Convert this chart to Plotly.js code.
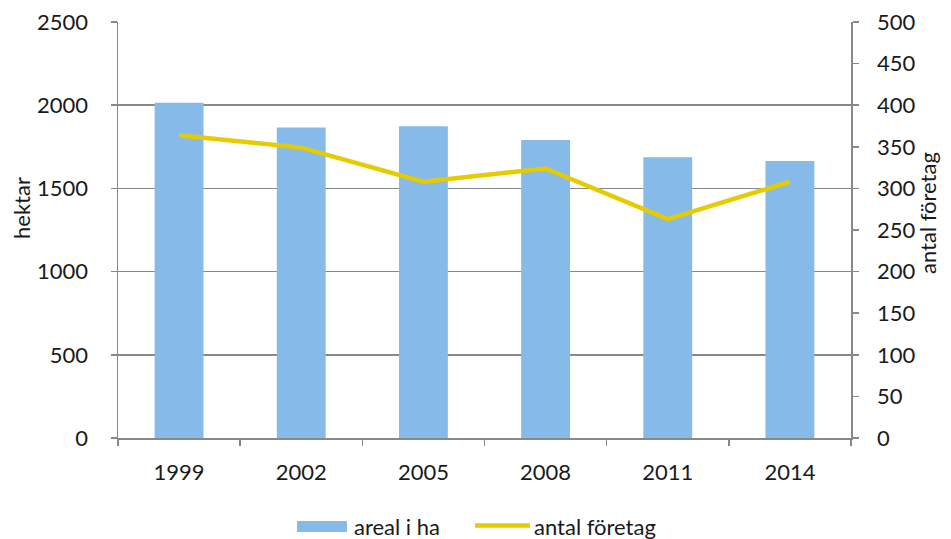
<!DOCTYPE html>
<html>
<head>
<meta charset="utf-8">
<script src="https://cdn.plot.ly/plotly-3.0.1.min.js"></script>
<style>html,body{margin:0;padding:0;background:#fff;}#chart{width:951px;height:539px;}</style>
</head>
<body>
<div id="chart"></div>
<script>
const years = ["1999", "2002", "2005", "2008", "2011", "2014"];
const arealHa = [2014, 1866, 1873, 1791, 1687, 1665];
const antalForetag = [364, 349, 308, 324, 263, 308];
const seriesNames = ["areal i ha", "antal företag"];
const axisTitles = ["hektar", "antal företag"];

const barColor = "#86BBE9";
const lineColor = "#E6CB00";
const font = {family: "Lato, 'Open Sans', sans-serif", size: 22, color: "#1a1a1a"};
const gray = "#888888";

const traces = [
  {type: "bar", x: years, y: arealHa, name: seriesNames[0], marker: {color: barColor}, yaxis: "y"},
  {type: "scatter", mode: "lines", x: years, y: antalForetag, name: seriesNames[1],
   line: {color: lineColor, width: 4.5}, yaxis: "y2"}
];

// plot area in pixels: x 118..851, y 22..438
const L = 118, R = 851, T = 22, B = 438;
const px = v => (v - L) / (R - L);
const py = v => (B - v) / (B - T);

const layout = {
  width: 951, height: 539,
  margin: {l: L, r: 951 - R, t: T, b: 539 - B, autoexpand: false},
  paper_bgcolor: "#fff", plot_bgcolor: "#fff",
  font: font,
  bargap: 0.6,
  showlegend: false,
  xaxis: {type: "category", showgrid: false, showline: true, linecolor: gray, linewidth: 1.5,
          ticks: "outside", tickson: "boundaries", ticklen: 6, tickcolor: gray, tickwidth: 1.5,
          ticklabelstandoff: 14, tickfont: font},
  yaxis: {range: [0, 2500], dtick: 500, showgrid: true, gridcolor: gray, gridwidth: 1.5,
          showline: true, linecolor: gray, linewidth: 1.5, ticks: "outside", ticklen: 6,
          tickcolor: gray, tickwidth: 1.5, zeroline: false, ticklabelstandoff: 18, tickfont: font},
  yaxis2: {range: [0, 500], dtick: 50, overlaying: "y", side: "right", showgrid: false,
           showline: true, linecolor: gray, linewidth: 1.5, ticks: "outside", ticklen: 6,
           tickcolor: gray, tickwidth: 1.5, zeroline: false, ticklabelstandoff: 14, tickfont: font},
  shapes: [
    {type: "rect", xref: "paper", yref: "paper", x0: px(297), x1: px(347), y0: py(532), y1: py(521),
     fillcolor: barColor, line: {width: 0}},
    {type: "line", xref: "paper", yref: "paper", x0: px(475), x1: px(530), y0: py(525.5), y1: py(525.5),
     line: {color: lineColor, width: 4.5}}
  ],
  annotations: [
    {xref: "paper", yref: "paper", x: px(352), y: py(526), xanchor: "left", yanchor: "middle",
     text: seriesNames[0], showarrow: false, font: font},
    {xref: "paper", yref: "paper", x: px(532), y: py(526), xanchor: "left", yanchor: "middle",
     text: seriesNames[1], showarrow: false, font: font},
    {xref: "paper", yref: "paper", x: px(21), y: py(208), xanchor: "center", yanchor: "middle",
     text: axisTitles[0], textangle: -90, showarrow: false, font: font},
    {xref: "paper", yref: "paper", x: px(927), y: py(213), xanchor: "center", yanchor: "middle",
     text: axisTitles[1], textangle: -90, showarrow: false, font: font}
  ]
};

Plotly.newPlot("chart", traces, layout, {displayModeBar: false, staticPlot: true});
</script>
</body>
</html>
